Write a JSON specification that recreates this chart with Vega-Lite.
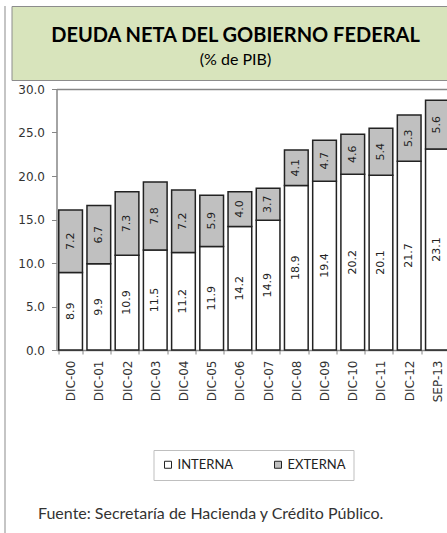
{
  "$schema": "https://vega.github.io/schema/vega-lite/v6.json",
  "padding": {"left": 4.5, "top": 5, "right": 0, "bottom": 0},
  "background": "white",
  "spacing": 0,
  "config": {
    "font": "Lato",
    "view": {"stroke": null}
  },
  "hconcat": [
    {
      "width": 1,
      "height": 530,
      "data": {"values": []},
      "mark": {"type": "point", "opacity": 0, "size": 0},
      "encoding": {},
      "view": {"fill": "#8c8c8c", "stroke": null}
    },
    {
      "spacing": 2,
      "title": {
        "text": "Fuente: Secretaría de Hacienda y Crédito Público.",
        "orient": "bottom",
        "anchor": "start",
        "frame": "bounds",
        "font": "Lato",
        "fontSize": 16,
        "fontWeight": "normal",
        "color": "#333333",
        "offset": 104,
        "dx": 32.5
      },
      "vconcat": [
        {
          "width": 448,
          "height": 74,
          "view": {"fill": "#d8e4bc", "stroke": "#8c8c8c"},
          "data": {"values": [
            {"n": 1, "linea": "DEUDA NETA DEL GOBIERNO FEDERAL"},
            {"n": 2, "linea": "(% de PIB)"}
          ]},
          "encoding": {
            "y": {"field": "n", "type": "ordinal", "axis": null, "scale": {"type": "point", "padding": 1.04, "align": 0.6}},
            "text": {"field": "linea", "type": "nominal"}
          },
          "layer": [
            {
              "transform": [{"filter": "datum.n == 1"}],
              "mark": {"type": "text", "font": "Lato", "fontSize": 20, "fontWeight": "bold", "color": "#000000"}
            },
            {
              "transform": [{"filter": "datum.n == 2"}],
              "mark": {"type": "text", "font": "Lato", "fontSize": 16, "fontWeight": "normal", "color": "#000000"}
            }
          ]
        },
        {
          "width": 440,
          "height": 261,
          "data": {"values": [
            {"periodo": "DIC-00", "tipo": "INTERNA", "valor": 8.9},
            {"periodo": "DIC-00", "tipo": "EXTERNA", "valor": 7.2},
            {"periodo": "DIC-01", "tipo": "INTERNA", "valor": 9.9},
            {"periodo": "DIC-01", "tipo": "EXTERNA", "valor": 6.7},
            {"periodo": "DIC-02", "tipo": "INTERNA", "valor": 10.9},
            {"periodo": "DIC-02", "tipo": "EXTERNA", "valor": 7.3},
            {"periodo": "DIC-03", "tipo": "INTERNA", "valor": 11.5},
            {"periodo": "DIC-03", "tipo": "EXTERNA", "valor": 7.8},
            {"periodo": "DIC-04", "tipo": "INTERNA", "valor": 11.2},
            {"periodo": "DIC-04", "tipo": "EXTERNA", "valor": 7.2},
            {"periodo": "DIC-05", "tipo": "INTERNA", "valor": 11.9},
            {"periodo": "DIC-05", "tipo": "EXTERNA", "valor": 5.9},
            {"periodo": "DIC-06", "tipo": "INTERNA", "valor": 14.2},
            {"periodo": "DIC-06", "tipo": "EXTERNA", "valor": 4.0},
            {"periodo": "DIC-07", "tipo": "INTERNA", "valor": 14.9},
            {"periodo": "DIC-07", "tipo": "EXTERNA", "valor": 3.7},
            {"periodo": "DIC-08", "tipo": "INTERNA", "valor": 18.9},
            {"periodo": "DIC-08", "tipo": "EXTERNA", "valor": 4.1},
            {"periodo": "DIC-09", "tipo": "INTERNA", "valor": 19.4},
            {"periodo": "DIC-09", "tipo": "EXTERNA", "valor": 4.7},
            {"periodo": "DIC-10", "tipo": "INTERNA", "valor": 20.2},
            {"periodo": "DIC-10", "tipo": "EXTERNA", "valor": 4.6},
            {"periodo": "DIC-11", "tipo": "INTERNA", "valor": 20.1},
            {"periodo": "DIC-11", "tipo": "EXTERNA", "valor": 5.4},
            {"periodo": "DIC-12", "tipo": "INTERNA", "valor": 21.7},
            {"periodo": "DIC-12", "tipo": "EXTERNA", "valor": 5.3},
            {"periodo": "SEP-13", "tipo": "INTERNA", "valor": 23.1},
            {"periodo": "SEP-13", "tipo": "EXTERNA", "valor": 5.6}
          ]},
          "resolve": {"axis": {"x": "independent"}},
          "layer": [
            {
              "mark": {"type": "bar", "stroke": "#222222", "strokeWidth": 1.5},
              "encoding": {
                "x": {
                  "field": "periodo",
                  "type": "nominal",
                  "sort": null,
                  "title": null,
                  "scale": {"range": [45, 440], "paddingInner": 0.16, "paddingOuter": 0.08},
                  "axis": {
                    "labelAngle": 270,
                    "labelFont": "DejaVu Sans",
                    "labelFontSize": 12,
                    "labelColor": "#333333",
                    "labelPadding": 6,
                    "tickBand": "extent",
                    "tickSize": 4,
                    "tickColor": "#868686",
                    "domainColor": "#868686",
                    "domainWidth": 1.5
                  }
                },
                "y": {
                  "field": "valor",
                  "type": "quantitative",
                  "title": null,
                  "scale": {"domain": [0, 30], "nice": false},
                  "axis": {
                    "values": [0, 5, 10, 15, 20, 25, 30],
                    "format": ".1f",
                    "grid": false,
                    "offset": -45,
                    "minExtent": 45,
                    "labelFont": "DejaVu Sans",
                    "labelFontSize": 12,
                    "labelColor": "#333333",
                    "labelPadding": 7,
                    "tickSize": 5,
                    "tickColor": "#868686",
                    "domainColor": "#868686",
                    "domainWidth": 1.5
                  }
                },
                "color": {
                  "field": "tipo",
                  "type": "nominal",
                  "scale": {"domain": ["INTERNA", "EXTERNA"], "range": ["#ffffff", "#c0c0c0"]},
                  "legend": {
                    "orient": "none",
                    "legendX": 149,
                    "legendY": 444,
                    "direction": "horizontal",
                    "title": null,
                    "strokeColor": "#bfbfbf",
                    "fillColor": "#ffffff",
                    "padding": 8,
                    "symbolType": "square",
                    "symbolSize": 49,
                    "symbolStrokeColor": "#222222",
                    "symbolStrokeWidth": 1,
                    "labelFont": "Lato",
                    "labelFontSize": 13,
                    "labelColor": "#222222",
                    "labelOffset": 3,
                    "columnPadding": 38
                  }
                },
                "order": {"field": "tipo", "sort": "descending"}
              }
            },
            {
              "transform": [
                {"stack": "valor", "groupby": ["periodo"], "sort": [{"field": "tipo", "order": "descending"}], "as": ["v0", "v1"]},
                {"fold": ["v0", "v1"], "as": ["extremo", "pos"]}
              ],
              "mark": {"type": "text", "angle": 270, "font": "DejaVu Sans", "fontSize": 11, "color": "#222222"},
              "encoding": {
                "x": {
                  "field": "periodo",
                  "type": "nominal",
                  "sort": null,
                  "title": null,
                  "axis": {
                    "orient": "top",
                    "labels": false,
                    "ticks": false,
                    "domain": true,
                    "domainColor": "#868686",
                    "domainWidth": 1.5
                  }
                },
                "y": {"field": "pos", "type": "quantitative", "aggregate": "mean"},
                "text": {"field": "valor", "type": "quantitative", "format": ".1f"},
                "detail": {"field": "tipo"}
              }
            }
          ]
        }
      ]
    }
  ]
}
